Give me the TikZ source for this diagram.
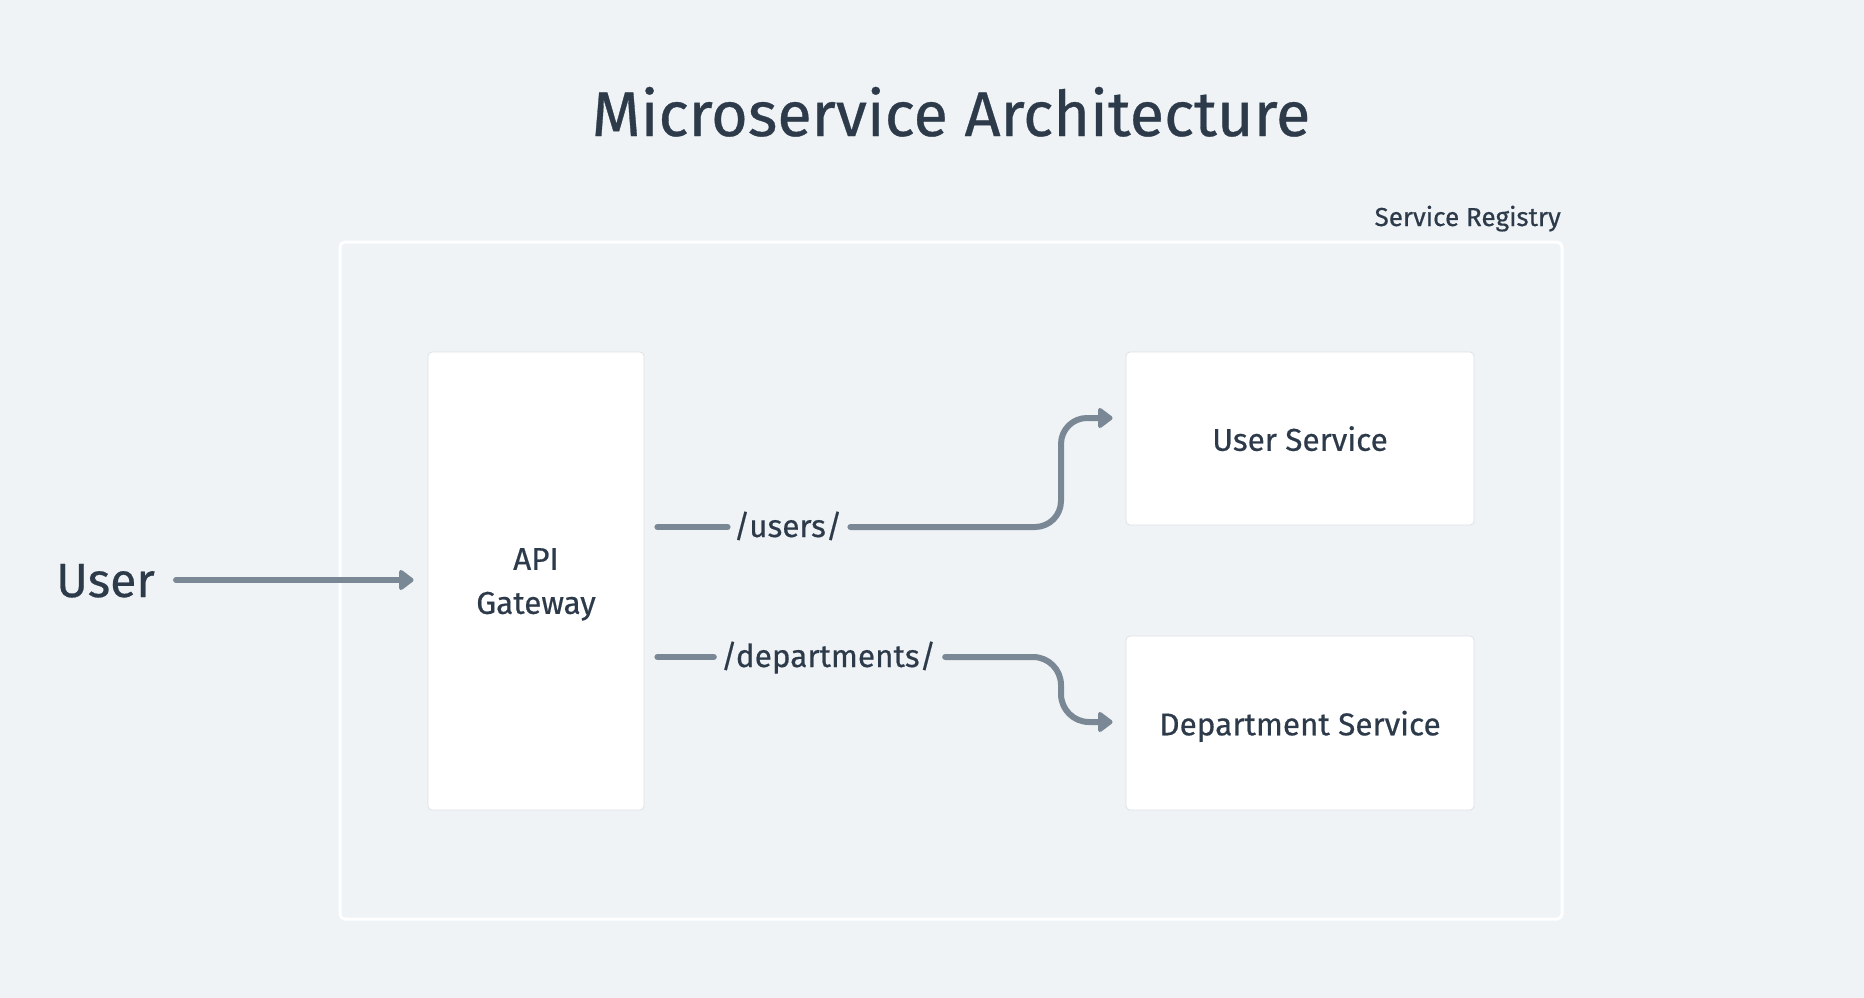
\documentclass[tikz,border=0pt]{standalone}
\usepackage{fontspec}
\setmainfont{Fira Sans}[FakeBold=0.5]
\usetikzlibrary{arrows.meta,calc}
\definecolor{bg}{HTML}{EFF3F6}
\definecolor{ink}{HTML}{2D3A4A}
\definecolor{conn}{HTML}{7A8794}
\definecolor{edge}{HTML}{DCE1E6}
\tikzset{
  svcbox/.style={draw=edge, line width=0.8pt, fill=white, rounded corners=4pt, inner sep=0pt, text=ink,
    font=\fontsize{31.5}{44}\selectfont, align=center, text depth=0pt},
  lbl/.style={text=ink, inner sep=0pt, font=\fontsize{31.5}{44}\selectfont},
  wire/.style={draw=conn, line width=6pt, line cap=round, line join=round,
    -{Triangle[length=16pt,width=23pt,round]}},
  plain/.style={draw=conn, line width=6pt, line cap=round},
}
\begin{document}
\begin{tikzpicture}[x=1pt,y=-1pt]
\fill[bg] (0,0) rectangle (1864,998);
\useasboundingbox (0,0) rectangle (1864,998);
% title
\node[text=ink, inner sep=0pt, anchor=base, font=\fontsize{63}{70}\selectfont] (title) at (951,136) {Microservice Architecture};
% registry
\draw[white, line width=3pt, rounded corners=5pt] (340,242) rectangle (1562,919);
\node[text=ink, inner sep=0pt, anchor=base east, font=\fontsize{26}{30}\selectfont] (reg) at (1561,226) {Service Registry};
% boxes
\node[svcbox, minimum width=216pt, minimum height=458pt] (gw) at (536,581) {API\\Gateway};
\node[svcbox, minimum width=348pt, minimum height=173pt] (us) at (1300,438.5) {User Service};
\node[svcbox, minimum width=348pt, minimum height=174pt] (ds) at (1300,723) {Department Service};
% user
\node[text=ink, inner sep=0pt, anchor=base west, font=\fontsize{48}{56}\selectfont] (user) at (56,597) {User};
\draw[wire] ([xshift=21pt]user.east |- 0,580) -- ([xshift=-14pt]gw.west |- 0,580);
% labels
\node[lbl, anchor=base] (lu) at (788,537) {/users/};
\node[lbl, anchor=base] (ld) at (828.5,667) {/departments/};
\draw[plain] ([xshift=13pt]gw.east |- 0,527) -- ([xshift=-6pt]lu.west |- 0,527);
\draw[plain] ([xshift=13pt]gw.east |- 0,657) -- ([xshift=-7pt]ld.west |- 0,657);
\draw[wire, rounded corners=26pt] ([xshift=8pt]lu.east |- 0,527) -- (1061,527) -- (1061,418) -- ([shift={(-13,-20.5)}]us.west);
\draw[wire, rounded corners=28pt] ([xshift=9pt]ld.east |- 0,657) -- (1061,657) -- (1061,722) -- ([shift={(-13,-1)}]ds.west);
\end{tikzpicture}
\end{document}
